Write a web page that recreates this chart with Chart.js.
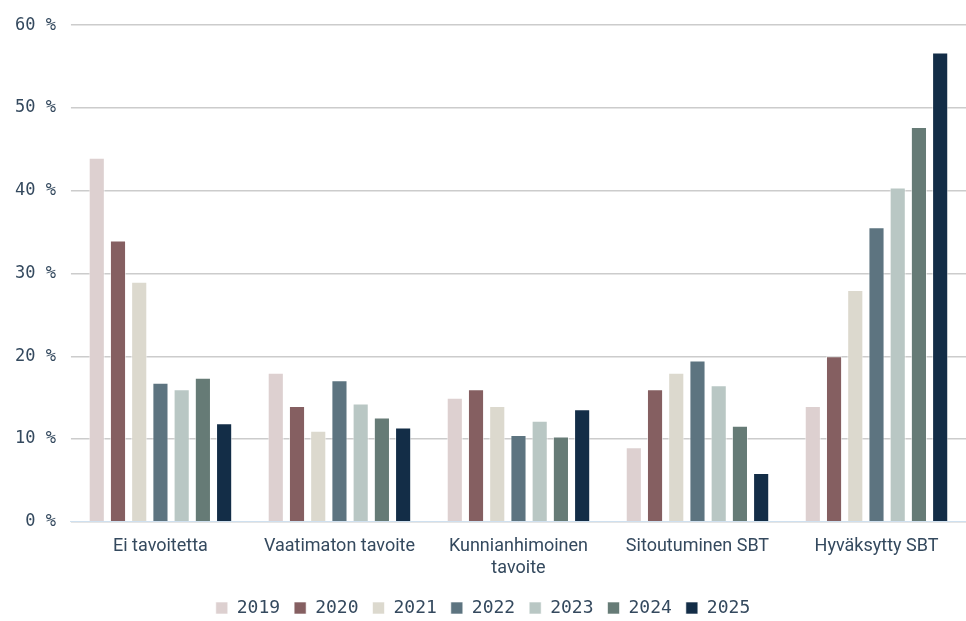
<!DOCTYPE html>
<html>
<head>
<meta charset="utf-8">
<script src="https://cdn.jsdelivr.net/npm/chart.js@4"></script>
<style>
  html, body { margin: 0; padding: 0; background: #fff; }
  #wrap { width: 966px; height: 621px; }
</style>
</head>
<body>
<div id="wrap"><canvas id="myChart" width="966" height="621"></canvas></div>
<script>
const categories = [
  "Ei tavoitetta",
  "Vaatimaton tavoite",
  ["Kunnianhimoinen", "tavoite"],
  "Sitoutuminen SBT",
  "Hyväksytty SBT",
];
const years = ["2019", "2020", "2021", "2022", "2023", "2024", "2025"];
const v2019 = [44, 18, 15, 9, 14];
const v2020 = [34, 14, 16, 16, 20];
const v2021 = [29, 11, 14, 18, 28];
const v2022 = [16.8, 17.1, 10.5, 19.5, 35.6];
const v2023 = [16.0, 14.3, 12.2, 16.5, 40.4];
const v2024 = [17.4, 12.6, 10.3, 11.6, 47.7];
const v2025 = [11.9, 11.4, 13.6, 5.9, 56.7];
const yTicks = [0, 10, 20, 30, 40, 50, 60];

const colors = ["#ddd0d0", "#855f61", "#dcd9ce", "#5d7480", "#b9c7c4", "#667b76", "#132d47"];
const series = [v2019, v2020, v2021, v2022, v2023, v2024, v2025];

const ctx = document.getElementById("myChart");

new Chart(ctx, {
  type: "bar",
  data: {
    labels: categories,
    datasets: years.map((y, i) => ({
      label: y,
      data: series[i],
      backgroundColor: colors[i],
      borderColor: "rgba(255,255,255,0.6)",
      borderWidth: 1,
      categoryPercentage: 0.83,
      barPercentage: 0.76,
    })),
  },
  options: {
    responsive: false,
    animation: false,
    layout: { padding: { top: 5, right: 0, left: 0, bottom: -6 } },
    plugins: {
      tooltip: { enabled: false },
      legend: {
        position: "bottom",
        labels: {
          boxWidth: 12,
          boxHeight: 12,
          padding: 14,
          color: "#34495e",
          font: { family: "DejaVu Sans Mono", size: 18 },
        },
      },
    },
    scales: {
      x: {
        grid: { display: false },
        border: { color: "#cfe0ef", width: 1 },
        ticks: {
          color: "#34495e",
          maxRotation: 0,
          autoSkip: false,
          padding: 6,
          font: { family: "Roboto", size: 18 },
        },
      },
      y: {
        min: 0,
        max: 60,
        afterBuildTicks: (axis) => {
          axis.ticks = yTicks.map((v) => ({ value: v }));
        },
        grid: { color: "#cccccc", lineWidth: 1.5, tickLength: 0 },
        border: { display: false },
        ticks: {
          color: "#34495e",
          padding: 15,
          font: { family: "DejaVu Sans Mono", size: 17 },
          callback: (v) => v + " %",
        },
      },
    },
  },
});
</script>
</body>
</html>
